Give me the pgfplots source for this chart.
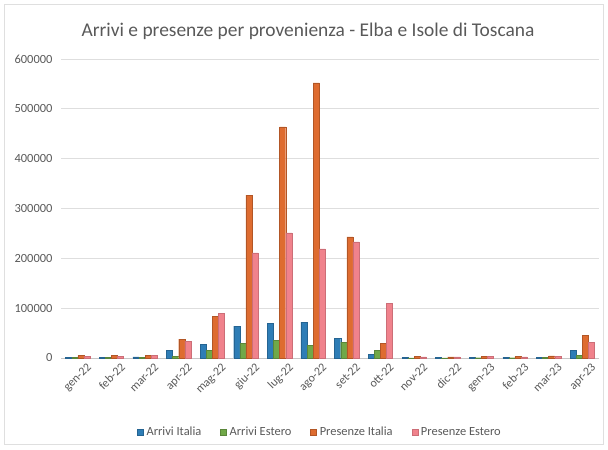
\documentclass[border=0pt]{standalone}
\usepackage{pgfplots}
\pgfplotsset{compat=1.18}
\usepackage{fontspec}
\setmainfont{Carlito}
\definecolor{cItIn}{RGB}{46,125,182}
\definecolor{cEsIn}{RGB}{112,168,72}
\definecolor{cItPr}{RGB}{222,108,48}
\definecolor{cEsPr}{RGB}{240,130,140}
\definecolor{txt}{RGB}{89,89,89}
\definecolor{gridc}{RGB}{222,222,222}
\begin{document}
\begin{tikzpicture}[x=1bp,y=1bp]
\path[use as bounding box] (0,0) rectangle (608,450);
\draw[gray!25, line width=0.6bp] (4,6) rectangle (603,446);
\node[text=txt, font=\fontsize{19.5}{23}\selectfont] at (308,419) {Arrivi e presenze per provenienza - Elba e Isole di Toscana};
\begin{axis}[
  at={(61bp,92bp)}, anchor=south west,
  scale only axis, width=538bp, height=299bp,
  ybar=0pt, bar width=6.1bp,
  xmin=-0.5, xmax=15.5,
  ymin=0, ymax=600000,
  xtick={0,...,15},
  xticklabels={gen-22,feb-22,mar-22,apr-22,mag-22,giu-22,lug-22,ago-22,set-22,ott-22,nov-22,dic-22,gen-23,feb-23,mar-23,apr-23},
  ytick={0,100000,...,600000},
  scaled y ticks=false,
  yticklabel={\pgfmathprintnumber[fixed,1000 sep={},assume math mode=true]{\tick}},
  tick label style={text=txt, font=\fontsize{12}{14}\selectfont},
  xticklabel style={rotate=45, anchor=north east, inner sep=1bp, xshift=4bp, yshift=-8bp},
  yticklabel style={xshift=-5bp, font=\fontsize{12.5}{14}\selectfont},
  major tick length=0pt,
  ymajorgrids, grid style={gridc, line width=0.7bp},
  axis lines*=left,
  axis line style={draw=none},
  clip=false,
  legend columns=4,
  legend style={at={(0.4814,-0.2475)}, anchor=center, draw=none, fill=none,
    font=\fontsize{12.5}{14}\selectfont, text=txt, inner sep=0pt,
    /tikz/every odd column/.append style={column sep=1bp},
    /tikz/every even column/.append style={column sep=17bp}},
  legend image code/.code={\draw[#1] (0bp,-3bp) rectangle (6bp,3bp);},
]
\draw[gray!45, line width=0.7bp] (rel axis cs:0,0) -- (rel axis cs:1,0);
\addplot[fill=cItIn, draw=cItIn!80!black, line width=0.3bp] coordinates {
(0,1500) (1,1500) (2,2500) (3,16000) (4,28000) (5,64000) (6,70000) (7,72000)
(8,40000) (9,7000) (10,800) (11,800) (12,1000) (13,1000) (14,1500) (15,16000)};
\addplot[fill=cEsIn, draw=cEsIn!80!black, line width=0.3bp] coordinates {
(0,800) (1,700) (2,1000) (3,4000) (4,16000) (5,30000) (6,36000) (7,26000)
(8,32000) (9,16000) (10,400) (11,400) (12,500) (13,500) (14,800) (15,6000)};
\addplot[fill=cItPr, draw=cItPr!80!black, line width=0.3bp] coordinates {
(0,5000) (1,5000) (2,6000) (3,38000) (4,83000) (5,327000) (6,464000) (7,552000)
(8,243000) (9,30000) (10,3000) (11,2500) (12,3500) (13,3000) (14,4500) (15,46000)};
\addplot[fill=cEsPr, draw=cEsPr!85!black, line width=0.3bp] coordinates {
(0,4000) (1,4000) (2,5000) (3,34000) (4,90000) (5,211000) (6,251000) (7,219000)
(8,233000) (9,110000) (10,2500) (11,2000) (12,3000) (13,2500) (14,4000) (15,32000)};
\legend{Arrivi Italia, Arrivi Estero, Presenze Italia, Presenze Estero}
\end{axis}
\end{tikzpicture}
\end{document}
